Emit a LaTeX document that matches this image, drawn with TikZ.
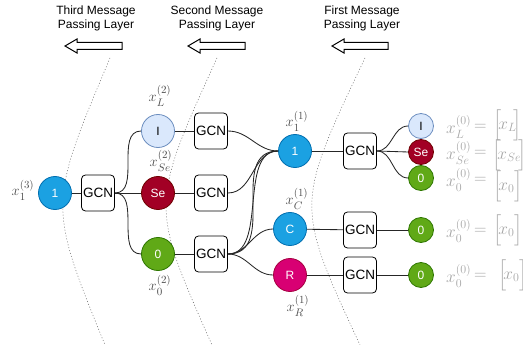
\documentclass[tikz,border=0pt]{standalone}
\usepackage{fontspec}
\setmainfont{Liberation Sans}
\usepackage{amsmath}
\definecolor{nblue}{HTML}{1BA1E2}
\definecolor{nbluedr}{HTML}{006EAF}
\definecolor{lblue}{HTML}{DAE8FC}
\definecolor{lbluedr}{HTML}{6C8EBF}
\definecolor{sered}{HTML}{A20025}
\definecolor{sereddr}{HTML}{6F0000}
\definecolor{ngreen}{HTML}{60A917}
\definecolor{ngreendr}{HTML}{2D7600}
\definecolor{nmag}{HTML}{D80073}
\definecolor{nmagdr}{HTML}{A50040}
\begin{document}
\begin{tikzpicture}[x=1pt,y=-1pt,
  bignode/.style={circle, minimum size=33pt, inner sep=0pt, line width=0.8pt, font=\fontsize{12}{14}\selectfont},
  leafnode/.style={circle, minimum size=25pt, inner sep=0pt, line width=0.8pt, font=\fontsize{12}{14}\selectfont},
  cblue/.style={fill=nblue, draw=nbluedr, text=white},
  clblue/.style={fill=lblue, draw=lbluedr, text=black},
  cred/.style={fill=sered, draw=sereddr, text=white},
  cgreen/.style={fill=ngreen, draw=ngreendr, text=white},
  cmag/.style={fill=nmag, draw=nmagdr, text=white},
  gcnbox/.style={draw=black, fill=white, rounded corners=4pt, minimum width=33pt, minimum height=36pt, inner sep=0pt, line width=0.8pt, font=\fontsize{13.5}{15}\selectfont},
  link/.style={draw=black!85, line width=0.85pt},
  lvl/.style={text=black!70, font=\fontsize{15}{17}\selectfont, inner sep=0pt},
  rlhs/.style={text=black!35, font=\fontsize{17}{19}\selectfont, inner sep=0pt, anchor=west},
  rrhs/.style={text=black!35, font=\fontsize{17}{19}\selectfont, inner sep=0pt, anchor=west},
  layerarc/.style={draw=black!60, dash pattern=on 1pt off 2pt, line width=0.5pt},
  blockarrow/.style={draw=black, fill=white, line width=1pt},
  titletext/.style={align=center, font=\fontsize{12}{14}\selectfont, inner sep=0pt}
]
\clip (0,0) rectangle (523,345);

% titles
\node[titletext] (t3) at (96,18.5) {Third Message\\Passing Layer};
\node[titletext] (t2) at (217,18.5) {Second Message\\Passing Layer};
\node[titletext] (t1) at (362,18.5) {First Message\\Passing Layer};

% block arrows
\draw[blockarrow] (65,46) -- (77,39) -- (77,42.5) -- (122,42.5) -- (122,49.5) -- (77,49.5) -- (77,53) -- cycle;
\draw[blockarrow] (188,46) -- (200,39) -- (200,42.5) -- (245,42.5) -- (245,49.5) -- (200,49.5) -- (200,53) -- cycle;
\draw[blockarrow] (332,46) -- (344,39) -- (344,42.5) -- (388,42.5) -- (388,49.5) -- (344,49.5) -- (344,53) -- cycle;

% layer boundaries
\coordinate (a3s) at (110,58); \coordinate (a3e) at (105,345);
\coordinate (a2s) at (217,58); \coordinate (a2e) at (212,345);
\coordinate (a1s) at (365,58); \coordinate (a1e) at (360,345);
\draw[layerarc] (a3s) .. controls (48,205) .. (a3e);
\draw[layerarc] (a2s) .. controls (150,205) .. (a2e);
\draw[layerarc] (a1s) .. controls (295,205) .. (a1e);

% level 3
\node[bignode, cblue] (n3) at (55,193) {1};
\node[gcnbox] (g3) at (98,193) {GCN};
\node[lvl] (ln3) at (23,190) {$x_1^{(3)}$};

% level 2
\node[bignode, clblue] (n2i) at (158,131) {I};
\node[bignode, cred] (n2s) at (158,193) {Se};
\node[bignode, cgreen] (n2o) at (158,254) {0};
\node[lvl] (ln2i) at (160,96) {$x_L^{(2)}$};
\node[lvl] (ln2s) at (161,161) {$x_{Se}^{(2)}$};
\node[lvl] (ln2o) at (160,285) {$x_0^{(2)}$};
\node[gcnbox] (g2a) at (211,131) {GCN};
\node[gcnbox] (g2b) at (211,193) {GCN};
\node[gcnbox] (g2c) at (211,254) {GCN};

% level 1
\node[bignode, cblue] (m1) at (295,151) {1};
\node[bignode, cblue] (mc) at (290,229) {C};
\node[bignode, cmag] (mr) at (290,275) {R};
\node[lvl] (lm1) at (297,121) {$x_1^{(1)}$};
\node[lvl] (lmc) at (297,199) {$x_C^{(1)}$};
\node[lvl] (lmr) at (298,306) {$x_R^{(1)}$};
\node[gcnbox] (g1a) at (360,151) {GCN};
\node[gcnbox] (g1b) at (360,230) {GCN};
\node[gcnbox] (g1c) at (360,275) {GCN};

% leaves
\node[leafnode, clblue] (li) at (421,126) {I};
\node[leafnode, cred] (ls) at (421,152) {Se};
\node[leafnode, cgreen] (lo) at (421,178) {0};
\node[leafnode, cgreen] (lo2) at (421,230) {0};
\node[leafnode, cgreen] (lo3) at (421,275) {0};

% edges
\draw[link] (n3) -- (g3);
\draw[link] (g3.east) to[out=0,in=180] (n2i.west);
\draw[link] (g3.east) -- (n2s.west);
\draw[link] (g3.east) to[out=0,in=180] (n2o.west);
\draw[link] (n2i) -- (g2a);
\draw[link] (n2s) -- (g2b);
\draw[link] (n2o) -- (g2c);
\draw[link] (g2a.east) to[out=0,in=180] (m1.west);
\draw[link] (g2b.east) to[out=0,in=180] (m1.west);
\draw[link] (g2c.east) to[out=0,in=180,looseness=0.9] (m1.west);
\draw[link] (g2c.east) to[out=0,in=180,looseness=1.15] (m1.west);
\draw[link] (g2c.east) to[out=0,in=180] (mc.west);
\draw[link] (g2c.east) to[out=0,in=180] (mr.west);
\draw[link] (m1) -- (g1a);
\draw[link] (mc) -- (g1b);
\draw[link] (mr) -- (g1c);
\draw[link] (g1a.east) to[out=0,in=180] (li.west);
\draw[link] (g1a.east) -- (ls.west);
\draw[link] (g1a.east) to[out=0,in=180] (lo.west);
\draw[link] (g1b) -- (lo2);
\draw[link] (g1c) -- (lo3);

% right labels
\node[rlhs] (r1l) at (446,127) {$x_L^{(0)}$};
\node[rlhs] (r2l) at (446,153) {$x_{Se}^{(0)}$};
\node[rlhs] (r3l) at (446,180) {$x_0^{(0)}$};
\node[rlhs] (r4l) at (446,231) {$x_0^{(0)}$};
\node[rlhs] (r5l) at (446,276) {$x_0^{(0)}$};
\node[rrhs] (r1e) at (474,127) {$=$};
\node[rrhs] (r2e) at (474,153) {$=$};
\node[rrhs] (r3e) at (474,180) {$=$};
\node[rrhs] (r4e) at (474,231) {$=$};
\node[rrhs] (r5e) at (474,276) {$=$};
\node[rrhs] (r1r) at (493,125) {$\left[\rule[-8pt]{0pt}{24pt}\!x_L\!\right]$};
\node[rrhs] (r2r) at (492,155) {$\left[\rule[-8pt]{0pt}{24pt}\!x_{Se}\!\right]$};
\node[rrhs] (r3r) at (493,186) {$\left[\rule[-8pt]{0pt}{24pt}\!x_0\right]$};
\node[rrhs] (r4r) at (493,230) {$\left[\rule[-8pt]{0pt}{24pt}\!x_0\right]$};
\node[rrhs] (r5r) at (498,275) {$\left[\rule[-8pt]{0pt}{24pt}\!x_0\right]$};
\end{tikzpicture}
\end{document}
